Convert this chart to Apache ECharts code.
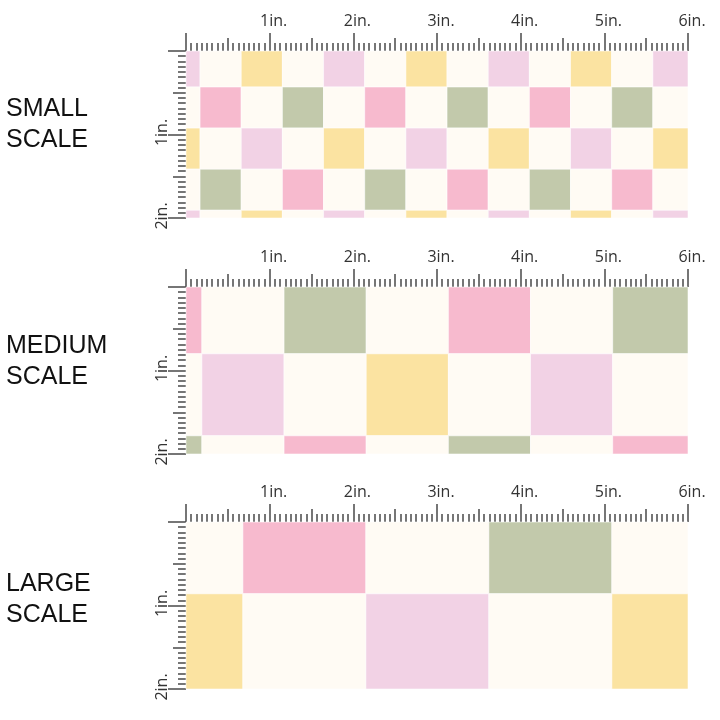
<!DOCTYPE html>
<html><head><meta charset="utf-8">
<script src="https://cdn.jsdelivr.net/npm/echarts@6/dist/echarts.min.js"></script>
<style>html,body{margin:0;padding:0;background:#fff}#c{width:720px;height:720px}</style>
</head><body><div id="c"></div>
<script>
// ---- data ----
const palette = ['#FFFBF4', '#F2D2E5', '#F7BACE', '#C2C9AB', '#FBE3A1']; // cream, light pink, pink, sage, yellow
const colorKeys = ['C', 'LP', 'P', 'S', 'Y'];
const panelNames = ['SMALL\nSCALE', 'MEDIUM\nSCALE', 'LARGE\nSCALE'];
const xTickLabels = ['', '1in.', '2in.', '3in.', '4in.', '5in.', '6in.'];
const yTickLabels = ['', '1in.', '2in.'];
const rulerSteps = [0.0625, 0.5, 1]; // sixteenth, half and whole inch marks

// cell size and the start of the first (partial) cell, in inches
const smallCell = 0.492, smallStartX = -0.324, smallStartY = -0.061;
const smallRows = [
  ['LP','C','Y','C','LP','C','Y','C','LP','C','Y','C','LP'],
  ['C','P','C','S','C','P','C','S','C','P','C','S','C'],
  ['Y','C','LP','C','Y','C','LP','C','Y','C','LP','C','Y'],
  ['C','S','C','P','C','S','C','P','C','S','C','P','C'],
  ['LP','C','Y','C','LP','C','Y','C','LP','C','Y','C','LP']
];
const mediumCell = 0.982, mediumStartX = -0.792, mediumStartY = -0.182;
const mediumRows = [
  ['P','C','S','C','P','C','S'],
  ['C','LP','C','Y','C','LP','C'],
  ['S','C','P','C','S','C','P']
];
const largeCell = 1.47, largeStartX = -0.79, largeStartY = -0.61;
const largeRows = [
  ['C','P','C','S','C'],
  ['Y','C','LP','C','Y']
];

function cells(rows, size, sx, sy) {
  const out = [];
  rows.forEach((row, r) => row.forEach((k, c) => {
    out.push([sx + c * size, sy + r * size, sx + (c + 1) * size, sy + (r + 1) * size, colorKeys.indexOf(k)]);
  }));
  return out;
}
const panels = [
  cells(smallRows, smallCell, smallStartX, smallStartY),
  cells(mediumRows, mediumCell, mediumStartX, mediumStartY),
  cells(largeRows, largeCell, largeStartX, largeStartY)
];

// ---- chart ----
const chart = echarts.init(document.getElementById('c'), null, {renderer: 'canvas'});
const gridTops = [51, 287, 522];
const titleTops = [94, 331, 569];
const tickColor = '#4a4a4a';
const tickWidth = 1.5;
const tickLengths = [8, 13, 18];
const grids = [], xAxes = [], yAxes = [], series = [], titles = [];
const labelFont = {fontFamily: 'Open Sans', fontSize: 16, color: '#333'};

gridTops.forEach((top, i) => {
  grids.push({left: 186, width: 502, top: top, height: 167, containLabel: false});
  titles.push({text: panelNames[i], left: 6, top: titleTops[i], padding: 0,
    textStyle: {fontFamily: 'Liberation Sans', fontSize: 25, fontWeight: 'normal', color: '#111', lineHeight: 31}});
  rulerSteps.forEach((step, s) => {
    const isMajor = s === rulerSteps.length - 1;
    xAxes.push({gridIndex: i, type: 'value', position: 'top', offset: 0, min: 0, max: 6, interval: step,
      axisLine: {show: false}, splitLine: {show: false},
      axisTick: {length: tickLengths[s], lineStyle: {color: tickColor, width: tickWidth}},
      axisLabel: isMajor ? Object.assign({margin: 22, formatter: v => xTickLabels[Math.round(v)] || '',
        padding: [0, 0, 0, 8]}, labelFont) : {show: false}});
    yAxes.push({gridIndex: i, type: 'value', position: 'left', offset: 0, min: 0, max: 2, interval: step, inverse: true,
      axisLine: {show: false}, splitLine: {show: false},
      axisTick: {length: tickLengths[s], lineStyle: {color: tickColor, width: tickWidth}},
      axisLabel: isMajor ? Object.assign({margin: 16, rotate: 90, formatter: v => yTickLabels[Math.round(v)] || '',
        padding: [0, 0, 0, 4]}, labelFont) : {show: false}});
  });
  series.push({
    type: 'custom', xAxisIndex: i * 3, yAxisIndex: i * 3, silent: true, z: 1,
    data: panels[i],
    renderItem: function (params, api) {
      const p0 = api.coord([api.value(0), api.value(1)]);
      const p1 = api.coord([api.value(2), api.value(3)]);
      const rect = echarts.graphic.clipRectByRect({
        x: Math.min(p0[0], p1[0]), y: Math.min(p0[1], p1[1]),
        width: Math.abs(p1[0] - p0[0]), height: Math.abs(p1[1] - p0[1])
      }, {x: params.coordSys.x, y: params.coordSys.y, width: params.coordSys.width, height: params.coordSys.height});
      if (!rect) return;
      return {type: 'rect', shape: rect,
        style: {fill: palette[api.value(4)], stroke: 'rgba(255,255,255,0.55)', lineWidth: 1}};
    }
  });
});

chart.setOption({
  backgroundColor: '#ffffff',
  animation: false,
  title: titles,
  grid: grids,
  xAxis: xAxes,
  yAxis: yAxes,
  series: series
});
</script>
</body></html>
